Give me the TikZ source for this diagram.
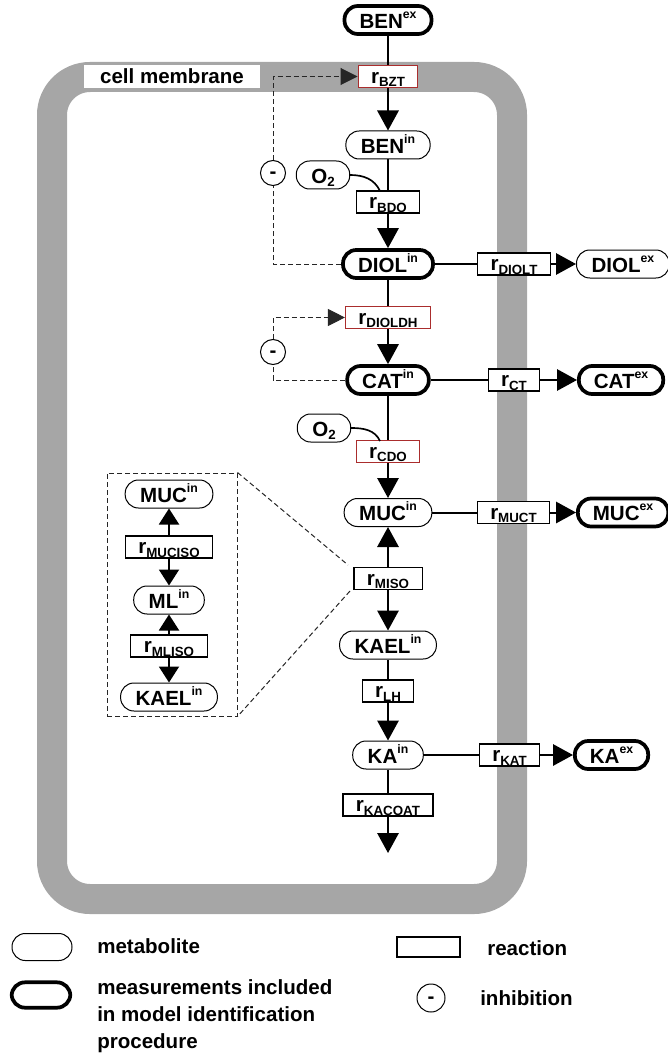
\documentclass[tikz,border=0pt]{standalone}
\usepackage{fontspec}
\setmainfont{Liberation Sans}
\usetikzlibrary{arrows.meta,calc}
\definecolor{membr}{RGB}{166,166,166}
\definecolor{rxred}{RGB}{170,45,45}
\newcommand{\mysup}[1]{\raisebox{7.5pt}{\fontsize{9.2}{10}\selectfont #1}}
\newcommand{\mysub}[1]{\raisebox{-2.5pt}{\fontsize{10}{10}\selectfont #1}}
\begin{document}
\begin{tikzpicture}[x=0.75pt,y=-0.75pt,
 every node/.style={font=\fontsize{15.4}{18}\selectfont\bfseries},
 met/.style={draw, rounded corners=10pt, fill=white, minimum height=21pt, inner xsep=11.25pt, inner ysep=0pt, text height=12.4pt, text depth=0pt, line width=0.75pt},
 metm/.style={met, line width=2.8pt},
 rx/.style={draw, fill=white, minimum height=16.5pt, inner xsep=9.75pt, inner ysep=0pt, text height=11pt, text depth=0.6pt, line width=0.8pt},
 rxr/.style={rx, draw=rxred},
 inh/.style={draw, circle, fill=white, minimum size=18.75pt, inner sep=0pt, line width=0.75pt, text height=7.6pt, text depth=0pt},
 lbl/.style={anchor=west, inner xsep=0pt},
 flow/.style={line width=1.5pt},
 arr/.style={flow, -{Triangle[length=15pt,width=16pt]}},
 iarr/.style={flow, -{Triangle[length=12pt,width=15pt]}},
 dsh/.style={line width=0.75pt, black!85, dash pattern=on 3.75pt off 2.25pt},
 dsharr/.style={dsh, -{Triangle[length=12.75pt,width=12.75pt]}}
]
\useasboundingbox (0,0) rectangle (667,1059);
% cell membrane
\draw[membr, line width=22.5pt, rounded corners=28.5pt] (52,77) rectangle (512,899);
\node[fill=white, minimum width=132pt, minimum height=17.25pt, inner sep=0pt] (cm) at (172,76.5) {cell membrane};

% main column
\node[metm] (BENex) at (388,20) {BEN\mysup{ex}};
\node[rxr] (rBZT) at (388,76.5) {r\mysub{BZT}};
\node[met] (BENin) at (388,145) {BEN\mysup{in}};
\node[met] (O2a) at (323,175) {O\mysub{2}};
\node[rx] (rBDO) at (388,202) {r\mysub{BDO}};
\node[metm] (DIOLin) at (388,264) {DIOL\mysup{in}};
\node[rx] (rDIOLT) at (514,264) {r\mysub{DIOLT}};
\node[met, anchor=west] (DIOLex) at (576,264) {DIOL\mysup{ex}};
\node[rxr] (rDIOLDH) at (388,317.5) {r\mysub{DIOLDH}};
\node[metm] (CATin) at (388,380) {CAT\mysup{in}};
\node[rx] (rCT) at (514,380) {r\mysub{CT}};
\node[metm, anchor=west] (CATex) at (577,380) {CAT\mysup{ex}};
\node[met] (O2b) at (324,428) {O\mysub{2}};
\node[rxr] (rCDO) at (388,451.5) {r\mysub{CDO}};
\node[met] (MUCin) at (388,512.5) {MUC\mysup{in}};
\node[rx] (rMUCT) at (513.5,512.5) {r\mysub{MUCT}};
\node[metm, anchor=west] (MUCex) at (576,512.5) {MUC\mysup{ex}};
\node[rx] (rMISO) at (388,578.5) {r\mysub{MISO}};
\node[met] (KAELin) at (388,645) {KAEL\mysup{in}};
\node[rx] (rLH) at (388,691) {r\mysub{LH}};
\node[met] (KAin) at (388,755) {KA\mysup{in}};
\node[rx] (rKAT) at (509.5,755) {r\mysub{KAT}};
\node[metm, anchor=west] (KAex) at (573,755) {KA\mysup{ex}};
\node[rx] (rKACOAT) at (388,805) {r\mysub{KACOAT}};
\coordinate (kaend) at (388,853);

% inhibition circles
\node[inh] (inh1) at (273,173) {-};
\node[inh] (inh2) at (273,352) {-};

% inset
\node[draw, dsh, minimum width=97.5pt, minimum height=182.25pt, inner sep=0pt] (inset) at (172,594.5) {};
\node[met] (iMUC) at (169,494) {MUC\mysup{in}};
\node[rx] (iMUCISO) at (169,547) {r\mysub{MUCISO}};
\node[met] (iML) at (169,600) {ML\mysup{in}};
\node[rx] (iMLISO) at (169,646) {r\mysub{MLISO}};
\node[met] (iKAEL) at (169,697) {KAEL\mysup{in}};
\coordinate (zl1) at (348,565);
\coordinate (zl2) at (350,591);

% vertical flow
\draw[flow] (BENex) -- (rBZT);
\draw[arr] (rBZT) -- (BENin);
\draw[flow] (BENin) -- (rBDO);
\draw[arr] (rBDO) -- (DIOLin);
\draw[flow] (DIOLin) -- (rDIOLDH);
\draw[arr] (rDIOLDH) -- (CATin);
\draw[flow] (CATin) -- (rCDO);
\draw[arr] (rCDO) -- (MUCin);
\draw[arr] (rMISO) -- (MUCin);
\draw[arr] (rMISO) -- (KAELin);
\draw[flow] (KAELin) -- (rLH);
\draw[arr] (rLH) -- (KAin);
\draw[flow] (KAin) -- (rKACOAT);
\draw[arr] (rKACOAT) -- (kaend);

% horizontal flow
\draw[flow] (DIOLin) -- (rDIOLT);
\draw[arr] (rDIOLT) -- (DIOLex);
\draw[flow] (CATin) -- (rCT);
\draw[arr] (rCT) -- (CATex);
\draw[flow] (MUCin) -- (rMUCT);
\draw[arr] (rMUCT) -- (MUCex);
\draw[flow] (KAin) -- (rKAT);
\draw[arr] (rKAT) -- (KAex);

% oxygen
\coordinate (bdoTop) at (380,191);
\coordinate (cdoTop) at (380,441);
\draw[line width=1.25pt] (O2a.east) to[out=0,in=115] (bdoTop);
\draw[line width=1.25pt] (O2b.east) to[out=0,in=115] (cdoTop);

% inhibition
\draw[dsh] (DIOLin.west) -| (inh1.south);
\draw[dsharr] (inh1.north) |- (rBZT.west);
\draw[dsh] (CATin.west) -| (inh2.south);
\draw[dsharr] (inh2.north) |- (rDIOLDH.west);

% inset links
\draw[dsh] (inset.north east) -- (zl1);
\draw[dsh] (zl2) -- (inset.south east);
\draw[iarr] (iMUCISO) -- (iMUC);
\draw[iarr] (iMUCISO) -- (iML);
\draw[iarr] (iMLISO) -- (iML);
\draw[iarr] (iMLISO) -- (iKAEL);

% legend
\node[met, minimum width=45pt, minimum height=20.25pt] (lgMet) at (42,947) {};
\node[lbl] (lgMetT) at (97,946) {metabolite};
\node[metm, minimum width=44pt, minimum height=19pt] (lgMeas) at (41,995) {};
\node[lbl, align=left, font=\fontsize{15.4}{20.25}\selectfont\bfseries] (lgMeasT) at (97,1016) {measurements included\\in model identification\\procedure};
\node[rx, minimum width=47.25pt, minimum height=15pt] (lgRx) at (428.5,947) {};
\node[lbl] (lgRxT) at (487,948) {reaction};
\node[inh, minimum size=21pt] (lgInh) at (431,998) {-};
\node[lbl] (lgInhT) at (480,998) {inhibition};
\end{tikzpicture}
\end{document}
